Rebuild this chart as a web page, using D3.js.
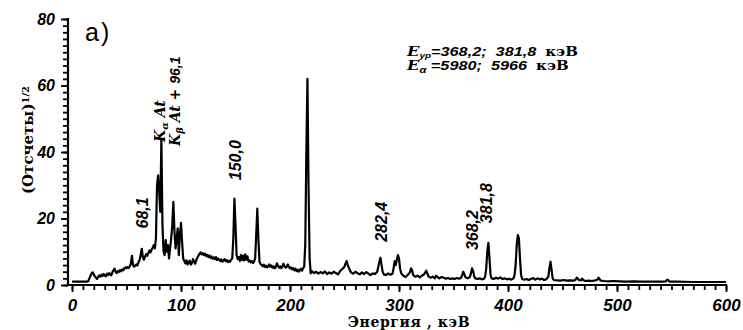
<!DOCTYPE html>
<html>
<head>
<meta charset="utf-8">
<script src="https://cdn.jsdelivr.net/npm/d3@7"></script>
<style>
  body { margin: 0; background: #fff; }
  svg { display: block; }
  text { white-space: pre; }
</style>
</head>
<body>
<script>
// spectrum: [energy keV, (counts)^1/2]
const spectrum = [
  [0,1.0],[14,1.0],[15,1.2],[16,2.0],[17,2.8],[18,3.5],[19,3.8],[20,3.2],[21,2.6],[22,2.2],[23,1.8],
  [24,2.4],[25,2.9],[26,2.5],[27,3.1],[28,2.7],[29,3.3],[30,2.9],[31,2.6],[32,3.4],[33,3.0],[34,3.6],
  [35,3.2],[36,2.9],[37,3.8],[38,4.4],[39,4.9],[40,4.0],[41,3.6],[42,4.2],[43,3.9],[44,4.5],[45,4.1],
  [46,4.7],[47,4.4],[48,5.0],[49,5.3],[50,5.0],[51,5.4],[52,5.1],[53,5.6],[54,6.5],[55,8.8],[56,6.0],
  [57,5.5],[58,5.8],[59,6.2],[60,5.9],[61,6.8],[62,7.5],[63,9.0],[64,10.9],[65,8.4],[66,7.6],[67,8.5],
  [68,9.3],[69,8.8],[70,9.6],[71,10.4],[72,9.8],[73,10.6],[74,11.2],[75,12.0],[76,11.0],[77,14],[78,30],
  [79,33],[80,28],[81,22],[82,44],[83,18],[84,10],[85,9],[86,13.5],[87,10],[88,12],[89,8],[90,11],
  [91,14],[92,18],[93,25],[94,16],[95,11],[96,14],[97,17],[98,9],[99,15],[100,18.7],[101,13],[102,8],
  [103,7.2],[104,6.5],[105,7.4],[106,6.2],[107,6.8],[108,7.3],[109,6.1],[110,6.6],[111,7.8],[112,7.0],
  [113,6.4],[114,7.5],[115,8.2],[116,8.8],[117,9.4],[118,9.8],[119,9.2],[120,9.6],[121,9.0],[122,9.4],
  [123,8.7],[124,9.1],[125,8.4],[126,8.9],[127,8.2],[128,8.6],[129,7.9],[130,8.3],[131,7.8],[132,8.4],
  [133,7.5],[134,8.0],[135,7.6],[136,7.2],[137,7.7],[138,7.0],[139,7.4],[140,7.8],[141,7.1],[142,7.5],
  [143,6.9],[144,7.3],[145,7.0],[146,7.6],[147,8.0],[148,14],[149,26],[150,18],[151,9],[152,7.8],
  [153,8.4],[154,7.2],[155,9.0],[156,7.5],[157,8.8],[158,7.4],[159,9.2],[160,7.6],[161,8.6],[162,7.1],
  [163,7.4],[164,6.8],[165,7.2],[166,6.6],[167,7.0],[168,8],[169,15],[170,23],[171,14],[172,7],
  [173,6.3],[174,6.0],[175,5.6],[176,6.1],[177,5.4],[178,5.8],[179,5.3],[180,5.6],[181,6.2],[182,5.5],
  [183,5.9],[184,5.2],[185,5.6],[186,5.0],[187,5.4],[188,6.5],[189,5.8],[190,5.2],[191,5.6],[192,5.1],
  [193,5.5],[194,6.4],[195,5.7],[196,5.2],[197,5.5],[198,6.2],[199,5.4],[200,5.0],[201,5.3],[202,4.7],
  [203,5.1],[204,4.4],[205,4.9],[206,4.2],[207,4.6],[208,4.0],[209,4.5],[210,4.9],[211,4.3],[212,5.0],
  [213,5.5],[214,12],[215,40],[216,62],[217,30],[218,8],[219,3.5],[220,4.2],[222,3.6],[224,4.0],
  [226,3.4],[228,3.9],[230,3.5],[232,4.1],[234,3.3],[236,3.8],[238,3.4],[240,4.0],[242,3.6],[244,3.2],
  [246,4.2],[248,4.8],[250,5.5],[251,6.5],[252,7.2],[253,6.0],[254,5.2],[255,4.4],[256,3.8],[258,3.4],
  [260,4.0],[262,3.5],[264,3.2],[266,3.8],[268,3.3],[270,3.9],[272,3.4],[274,3.0],[276,3.5],[278,3.3],
  [280,4.0],[281,5.5],[282,7.0],[283,8.2],[284,6.0],[285,4.0],[286,3.2],[288,3.0],[290,3.5],[292,3.1],
  [294,3.4],[295,5.0],[296,7.2],[297,6.0],[298,7.5],[299,9.0],[300,8.0],[301,5.0],[302,3.5],[304,2.8],
  [306,2.4],[308,3.0],[310,3.8],[311,5.0],[312,4.5],[313,3.0],[315,2.5],[317,2.8],[319,2.3],[321,2.8],
  [323,3.2],[325,4.3],[326,3.5],[327,2.6],[329,2.2],[331,2.5],[333,2.0],[334,2.8],[335,2.5],[337,2.0],
  [339,2.4],[341,2.2],[343,1.9],[345,2.1],[347,1.8],[349,2.0],[351,1.8],[353,2.1],[355,1.9],[357,2.2],
  [358,3.0],[359,4.0],[360,3.2],[361,2.3],[363,2.0],[365,2.4],[366,3.5],[367,5.0],[368,4.2],[369,2.6],
  [370,2.0],[372,1.8],[374,2.0],[376,1.7],[378,1.9],[379,2.5],[380,5],[381,10],[382,12.7],[383,8],
  [384,3],[385,2.0],[387,1.8],[389,2.2],[391,1.9],[393,2.3],[395,1.8],[397,2.0],[399,1.7],[401,1.9],
  [403,1.6],[405,2.0],[406,3.0],[407,6],[408,12],[409,15],[410,14],[411,8],[412,3],[413,1.8],[415,1.6],
  [417,1.8],[419,1.5],[421,1.8],[423,2.1],[425,1.6],[427,2.0],[429,1.7],[431,1.9],[433,1.5],[435,1.7],
  [437,2.5],[438,5],[439,7],[440,4.5],[441,2],[442,1.5],[445,1.4],[448,1.3],[451,1.5],[454,1.3],
  [457,1.4],[460,1.3],[462,1.6],[463,2.2],[464,2.0],[465,1.5],[467,1.4],[468,1.9],[469,1.5],[471,1.2],
  [474,1.3],[477,1.2],[480,1.4],[482,1.6],[483,2.2],[484,1.8],[485,1.3],[488,1.2],[492,1.1],[497,1.2],
  [502,1.1],[508,1.0],[515,1.1],[522,1.0],[530,1.0],[540,1.0],[545,1.1],[546,1.6],[547,1.5],[548,1.0],
  [555,1.0],[570,0.9],[585,0.9],[600,0.9]
];

// rotated peak labels: [energy of label, value at label start, text]
const peakLabels = [
  [70.0, 17.0, "68,1"],
  [155.0, 31.5, "150,0"],
  [289.0, 13.0, "282,4"],
  [372.5, 10.5, "368,2"],
  [385.5, 18.6, "381,8"]
];

const xMajor = [0, 100, 200, 300, 400, 500, 600];
const yMajor = [0, 20, 40, 60, 80];

const width = 743, height = 330;

const x = d3.scaleLinear().domain([0, 600]).range([72, 726]);
const y = d3.scaleLinear().domain([0, 80]).range([285, 19]);

const numFont = "'Liberation Sans', Arial, sans-serif";
const serifFont = "'DejaVu Serif', 'Liberation Serif', serif";

const svg = d3.select("body").append("svg")
  .attr("width", width)
  .attr("height", height);

// x axis: minor ticks every 10 keV, labels every 100
svg.append("g")
  .attr("transform", "translate(0,285)")
  .call(d3.axisBottom(x).tickValues(d3.range(0, 601, 10)).tickSize(5).tickFormat(""));
const xAxis = svg.append("g")
  .attr("transform", "translate(0,285)")
  .call(d3.axisBottom(x).tickValues(xMajor).tickSize(7).tickPadding(7).tickFormat(d3.format("d")));

// y axis: minor ticks every 2, labels every 20
svg.append("g")
  .attr("transform", "translate(68,0)")
  .call(d3.axisLeft(y).tickValues(d3.range(0, 81, 2)).tickSize(5).tickFormat(""));
svg.append("g")
  .attr("transform", "translate(68,0)")
  .call(d3.axisLeft(y).tickValues(yMajor).tickSize(7).tickPadding(6).tickFormat(d3.format("d")));

svg.selectAll(".domain").remove();
svg.selectAll(".tick line").attr("stroke", "#000").attr("stroke-width", 1.8);
svg.selectAll(".tick text")
  .attr("fill", "#000")
  .style("font", `italic bold 16px ${numFont}`);
xAxis.selectAll(".tick text").style("font-size", "17px");

// axis lines
svg.append("line")
  .attr("x1", 67).attr("x2", x(600) + 1)
  .attr("y1", 285).attr("y2", 285)
  .attr("stroke", "#000").attr("stroke-width", 2.2);
svg.append("line")
  .attr("x1", 68).attr("x2", 68)
  .attr("y1", y(80) - 1).attr("y2", 286)
  .attr("stroke", "#000").attr("stroke-width", 2.2);

// spectrum
const line = d3.line()
  .x((d) => x(d[0]))
  .y((d) => y(d[1]));

svg.append("path")
  .datum(spectrum)
  .attr("fill", "none")
  .attr("stroke", "#000")
  .attr("stroke-width", 2.2)
  .attr("stroke-linejoin", "round")
  .attr("d", line);

// peak energies, written bottom-to-top
svg.selectAll(".peak")
  .data(peakLabels)
  .join("text")
  .attr("class", "peak")
  .attr("transform", (d) => `translate(${x(d[0])},${y(d[1])}) rotate(-90)`)
  .style("font", `italic bold 16px ${numFont}`)
  .text((d) => d[2]);

// K x-ray labels
const kLab = svg.append("g")
  .attr("transform", `translate(${x(85.5)},${y(43)}) rotate(-90)`)
  .style("font", `italic bold 14px ${serifFont}`);
const k1 = kLab.append("text");
k1.append("tspan").text("K");
k1.append("tspan").attr("baseline-shift", "-25%").style("font-size", "10px").text("α");
k1.append("tspan").text(" At");
const k2 = kLab.append("text").attr("y", 15).attr("x", -4);
k2.append("tspan").text("K");
k2.append("tspan").attr("baseline-shift", "-25%").style("font-size", "10px").text("β");
k2.append("tspan").text(" At + ");
k2.append("tspan").style("font-family", numFont).text("96,1");

// panel letter
svg.append("text")
  .attr("x", 85).attr("y", 41)
  .attr("letter-spacing", 2)
  .style("font", `normal 25px ${numFont}`)
  .text("a)");

// level / alpha energies
const note = svg.append("g")
  .attr("transform", "translate(407,56) scale(1.25,1)")
  .style("font", `italic bold 13px ${numFont}`);
const n1 = note.append("text");
n1.append("tspan").style("font-family", serifFont).text("E");
n1.append("tspan").attr("baseline-shift", "-25%").style("font-size", "8px").text("ур");
n1.append("tspan").text("=368,2;  381,8  ");
n1.append("tspan").style("font", `normal bold 12px ${serifFont}`).text("кэВ");
const n2 = note.append("text").attr("y", 14);
n2.append("tspan").style("font-family", serifFont).text("E");
n2.append("tspan").attr("baseline-shift", "-25%").style("font-size", "9px").text("α");
n2.append("tspan").text(" =5980;  5966  ");
n2.append("tspan").style("font", `normal bold 12px ${serifFont}`).text("кэВ");

// axis titles
svg.append("text")
  .attr("x", (x(0) + x(600)) / 2 + 10)
  .attr("y", 327)
  .attr("text-anchor", "middle")
  .style("font", `bold 14px ${serifFont}`)
  .attr("letter-spacing", 0.6)
  .text("Энергия , кэВ");

const yTitle = svg.append("text")
  .attr("transform", "translate(33,140) rotate(-90)")
  .attr("text-anchor", "middle")
  .style("font", `bold 15px ${serifFont}`);
yTitle.append("tspan").text("(Отсчеты)");
yTitle.append("tspan").attr("baseline-shift", "40%").style("font-size", "10px").text("1/2");
</script>
</body>
</html>
